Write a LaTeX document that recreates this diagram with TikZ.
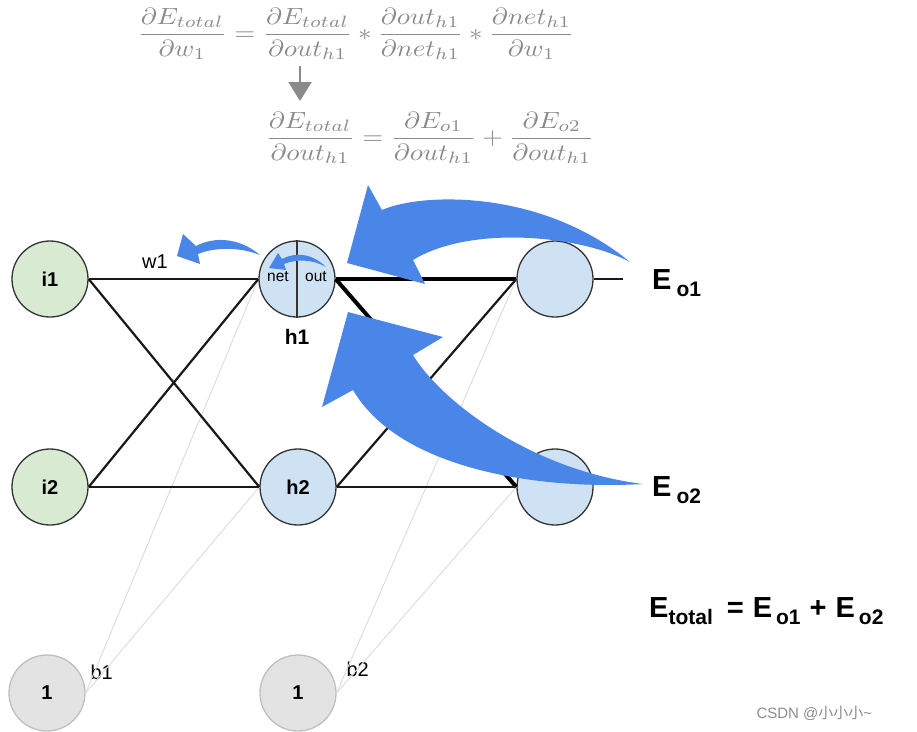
\documentclass[tikz,border=0pt]{standalone}
\usepackage[no-math]{fontspec}
\setmainfont{Liberation Sans}
\newfontfamily\cjk{Noto Sans CJK SC}
\usetikzlibrary{arrows.meta}
\definecolor{ngreen}{HTML}{D9EAD3}
\definecolor{nblue}{HTML}{CFE2F3}
\definecolor{ngray}{HTML}{E3E3E3}
\definecolor{abl}{HTML}{4A86E8}
\definecolor{fgray}{HTML}{8A8A8A}
\tikzset{
  neuron/.style={circle, draw=black!80, line width=1.3pt, minimum size=76pt, inner sep=0pt, font=\fontsize{20}{20}\selectfont\bfseries},
  inp/.style={neuron, fill=ngreen},
  hid/.style={neuron, fill=nblue},
  bias/.style={neuron, fill=ngray, draw=black!25},
  edge/.style={line width=2.2pt, black!90},
  thickedge/.style={line width=4pt, black},
  biasedge/.style={line width=1pt, black!13},
  lbl/.style={font=\fontsize{20}{20}\selectfont},
  small/.style={font=\fontsize{15.5}{15.5}\selectfont},
  bigE/.style={font=\fontsize{29}{29}\selectfont\bfseries, inner sep=0pt, anchor=base west},
  blarrow/.style={fill=abl, draw=none},
  formula/.style={fgray, inner sep=0pt, xscale=2.7, yscale=2.35},
}
\newcommand{\subx}[1]{\raisebox{-7pt}{\fontsize{21}{21}\selectfont #1}}
\begin{document}
\begin{tikzpicture}[x=1pt,y=-1pt]
\useasboundingbox (0,0) rectangle (917,731);

% formulas
\node[formula] (f1) at (356,34) {$\displaystyle \frac{\partial E_{total}}{\partial w_1} = \frac{\partial E_{total}}{\partial out_{h1}} * \frac{\partial out_{h1}}{\partial net_{h1}} * \frac{\partial net_{h1}}{\partial w_1}$};
\node[formula] (f2) at (430,138) {$\displaystyle \frac{\partial E_{total}}{\partial out_{h1}} = \frac{\partial E_{o1}}{\partial out_{h1}} + \frac{\partial E_{o2}}{\partial out_{h1}}$};
\coordinate (da) at (300,66);
\coordinate (db) at (300,101);
\draw[fgray, line width=2.4pt, -{Triangle[length=19pt,width=23pt]}] (da) -- (db);

% nodes
\node[inp] (i1) at (50,279) {i1};
\node[inp] (i2) at (50,487) {i2};
\node[hid] (h1) at (297,279) {};
\node[hid] (h2) at (298,487) {h2};
\node[hid] (o1) at (555,279) {};
\node[hid] (o2) at (555,487) {};
\node[bias] (b1) at (47,693) {1};
\node[bias] (b2) at (298,693) {1};
\draw[black!80, line width=1.3pt] (h1.north) -- (h1.south);
\node[small] (net) at (278,277) {net};
\node[small] (out) at (316,277) {out};
\node[lbl, font=\fontsize{21}{21}\selectfont\bfseries] (h1l) at (297,337) {h1};
\node[lbl] (w1) at (155,262) {w1};
\node[lbl, anchor=base west] (b1l) at (87,679) {b1};
\node[lbl, anchor=base west] (b2l) at (343,676) {b2};

% bias edges
\draw[biasedge] (b1.east) -- (h1.west);
\draw[biasedge] (b1.east) -- (h2.west);
\draw[biasedge] (b2.east) -- (o1.west);
\draw[biasedge] (b2.east) -- (o2.west);

% edges
\draw[edge] (i1.east) -- (h1.west);
\draw[edge] (i1.east) -- (h2.west);
\draw[edge] (i2.east) -- (h1.west);
\draw[edge] (i2.east) -- (h2.west);
\draw[thickedge] (h1.east) -- (o1.west);
\draw[thickedge] (h1.east) -- (o2.west);
\draw[edge] (h2.east) -- (o1.west);
\draw[edge] (h2.east) -- (o2.west);
\coordinate (oend) at (623,279);
\draw[edge] (o1.east) -- (oend);

% error labels
\node[bigE] (eo1) at (652,289) {E\hspace{5pt}\subx{o1}};
\node[bigE] (eo2) at (652,496) {E\hspace{5pt}\subx{o2}};
\node[bigE] (etot) at (649,617) {E\subx{total}\hspace{14pt}=\hspace{9pt}E\hspace{4pt}\subx{o1}\hspace{9pt}+\hspace{9pt}E\hspace{4pt}\subx{o2}};

% big blue arrows
\fill[blarrow] (347,263) -- (368,185) -- (382,210)
  .. controls (420,193) and (540,188) .. (630,262)
  .. controls (580,235) and (470,225) .. (413,260)
  -- (425,284) -- cycle;
\fill[blarrow] (348,312) -- (443,337) -- (413,355)
  .. controls (440,400) and (530,470) .. (643,484)
  .. controls (540,490) and (400,470) .. (353,390)
  -- (322,407) -- cycle;
% small blue arrows
\fill[blarrow] (260,255) .. controls (240,238) and (215,236) .. (196,246)
  -- (183,234) -- (177,256) -- (200,264) -- (198,254)
  .. controls (215,247) and (240,247) .. (260,255) -- cycle;
\fill[blarrow] (326,267) .. controls (312,253) and (295,252) .. (282,259)
  -- (278,253) -- (269,268) -- (286,270) -- (284,264)
  .. controls (296,259) and (312,259) .. (326,267) -- cycle;

% watermark
\node[font=\fontsize{15}{15}\selectfont, black!45, anchor=west] (wm) at (753,713) {CSDN @{\cjk 小小小}\textasciitilde};
\end{tikzpicture}
\end{document}
